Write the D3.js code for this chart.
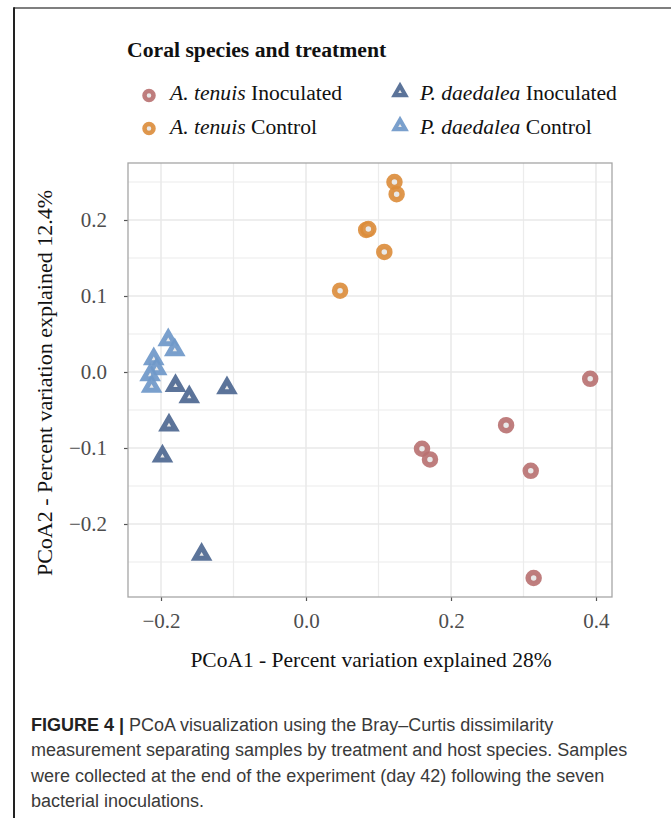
<!DOCTYPE html>
<html><head><meta charset="utf-8">
<script src="https://cdn.jsdelivr.net/npm/d3@7"></script>
<style>html,body{margin:0;padding:0;background:#fff;}svg{display:block;}</style>
</head><body>
<script>
// ---- data ----
const seriesNames = ["A. tenuis Inoculated", "A. tenuis Control", "P. daedalea Inoculated", "P. daedalea Control"];
const seriesSpecies = ["A. tenuis", "A. tenuis", "P. daedalea", "P. daedalea"];
const seriesTreatment = ["Inoculated", "Control", "Inoculated", "Control"];
const seriesShape = ["circle", "circle", "triangle", "triangle"];
const seriesColor = ["#b87070", "#db8c3a", "#4e6891", "#6f98c9"];

const atInocX = [0.392, 0.276, 0.160, 0.171, 0.310, 0.314];
const atInocY = [-0.009, -0.070, -0.101, -0.115, -0.130, -0.271];
const atCtrlX = [0.122, 0.125, 0.083, 0.086, 0.108, 0.047];
const atCtrlY = [0.250, 0.234, 0.187, 0.188, 0.158, 0.107];
const pdInocX = [-0.180, -0.161, -0.109, -0.189, -0.198, -0.144];
const pdInocY = [-0.018, -0.033, -0.021, -0.070, -0.111, -0.240];
const pdCtrlX = [-0.190, -0.181, -0.210, -0.206, -0.215, -0.213];
const pdCtrlY = [0.042, 0.029, 0.017, 0.004, -0.004, -0.019];

const xMajor = [-0.2, 0.0, 0.2, 0.4];
const xMinor = [-0.1, 0.1, 0.3];
const yMajor = [-0.2, -0.1, 0.0, 0.1, 0.2];
const yMinor = [-0.25, -0.15, -0.05, 0.05, 0.15, 0.25];

const legendTitle = "Coral species and treatment";
const xTitle = "PCoA1 - Percent variation explained 28%";
const yTitle = "PCoA2 - Percent variation explained 12.4%";
const captionBold = "FIGURE 4 |";
const captionLines = [
  " PCoA visualization using the Bray\u2013Curtis dissimilarity",
  "measurement separating samples by treatment and host species. Samples",
  "were collected at the end of the experiment (day 42) following the seven",
  "bacterial inoculations."
];

const seriesX = [atInocX, atCtrlX, pdInocX, pdCtrlX];
const seriesY = [atInocY, atCtrlY, pdInocY, pdCtrlY];

// ---- layout ----
const W = 671, H = 818;
const P = {left: 128, right: 612, top: 163, bottom: 597};
const serif = "'Liberation Serif','Times New Roman',serif";
const sans = "'Liberation Sans',Arial,Helvetica,sans-serif";

const svg = d3.select("body").append("svg").attr("width", W).attr("height", H);

// frame
svg.append("line").attr("x1", 14).attr("x2", W).attr("y1", 8).attr("y2", 8)
  .attr("stroke", "#555").attr("stroke-width", 1.5);
svg.append("line").attr("x1", 14).attr("x2", 14).attr("y1", 7.25).attr("y2", H)
  .attr("stroke", "#222").attr("stroke-width", 2);

const x = d3.scaleLinear().domain([-0.24552, 0.42207]).range([P.left, P.right]);
const y = d3.scaleLinear().domain([0.275, -0.29605]).range([P.top, P.bottom]);

// grid
const grid = svg.append("g");
grid.selectAll(".gxm").data(xMinor).join("line")
  .attr("x1", d => x(d)).attr("x2", d => x(d)).attr("y1", P.top).attr("y2", P.bottom)
  .attr("stroke", "#ececec").attr("stroke-width", 1.2);
grid.selectAll(".gym").data(yMinor).join("line")
  .attr("y1", d => y(d)).attr("y2", d => y(d)).attr("x1", P.left).attr("x2", P.right)
  .attr("stroke", "#ececec").attr("stroke-width", 1.2);
grid.selectAll(".gxM").data(xMajor).join("line")
  .attr("x1", d => x(d)).attr("x2", d => x(d)).attr("y1", P.top).attr("y2", P.bottom)
  .attr("stroke", "#e8e8e8").attr("stroke-width", 1.5);
grid.selectAll(".gyM").data(yMajor).join("line")
  .attr("y1", d => y(d)).attr("y2", d => y(d)).attr("x1", P.left).attr("x2", P.right)
  .attr("stroke", "#e8e8e8").attr("stroke-width", 1.5);

// axes
const fmt = d => d3.format(".1f")(d).replace("-", "\u2212");
const xAxis = svg.append("g").attr("transform", `translate(0,${P.bottom})`)
  .call(d3.axisBottom(x).tickValues(xMajor).tickFormat(fmt).tickSize(4).tickPadding(12));
const yAxis = svg.append("g").attr("transform", `translate(${P.left},0)`)
  .call(d3.axisLeft(y).tickValues(yMajor).tickFormat(fmt).tickSize(4).tickPadding(17));
[xAxis, yAxis].forEach(a => {
  a.select(".domain").remove();
  a.selectAll(".tick line").attr("stroke", "#555").attr("stroke-width", 1.2);
  a.selectAll(".tick text").attr("fill", "#4d4d4d").style("font-family", serif).style("font-size", "21px");
});

// panel border
svg.append("rect").attr("x", P.left).attr("y", P.top)
  .attr("width", P.right - P.left).attr("height", P.bottom - P.top)
  .attr("fill", "none").attr("stroke", "#a6a6a6").attr("stroke-width", 1.3);

// markers
function drawMarker(g, shape, color, k) {
  if (shape === "circle") {
    g.append("circle").attr("r", 5.5 * k).attr("fill", "#e9e9e9")
      .attr("stroke", color).attr("stroke-width", 5.5 * k).attr("stroke-opacity", 0.9);
  } else {
    const S = 13 * k, TH = S * Math.sqrt(3) / 2;
    g.append("path").attr("d", `M0,${-2 * TH / 3}L${S / 2},${TH / 3}L${-S / 2},${TH / 3}Z`)
      .attr("fill", "#e9e9e9")
      .attr("stroke", color).attr("stroke-width", 5 * k).attr("stroke-linejoin", "miter")
      .attr("stroke-opacity", 0.92);
  }
}
const pts = svg.append("g");
seriesNames.forEach((n, i) => {
  const data = seriesX[i].map((v, j) => [v, seriesY[i][j]]);
  pts.selectAll(null).data(data).join("g")
    .attr("transform", d => `translate(${x(d[0])},${y(d[1])})`)
    .each(function () { drawMarker(d3.select(this), seriesShape[i], seriesColor[i], 1); });
});

// axis titles
svg.append("text").attr("x", (P.left + P.right) / 2 + 1).attr("y", 667)
  .attr("text-anchor", "middle").style("font-family", serif).style("font-size", "21.5px")
  .attr("fill", "#111").text(xTitle);
svg.append("text").attr("transform", `translate(52,${(P.top + P.bottom) / 2 + 3}) rotate(-90)`)
  .attr("text-anchor", "middle").style("font-family", serif).style("font-size", "22px")
  .attr("fill", "#111").text(yTitle);

// legend
svg.append("text").attr("x", 127).attr("y", 57).style("font-family", serif)
  .style("font-size", "21.7px").style("font-weight", "bold").attr("fill", "#111").text(legendTitle);
const legPos = [[149, 95.5, 170, 100], [149, 128.5, 170, 134], [400, 92, 420, 100], [400, 126, 420, 134]];
seriesNames.forEach((n, i) => {
  const [mx, my, tx, ty] = legPos[i];
  const g = svg.append("g").attr("transform", `translate(${mx},${my})`);
  drawMarker(g, seriesShape[i], seriesColor[i], 0.82);
  const t = svg.append("text").attr("x", tx).attr("y", ty).style("font-family", serif)
    .style("font-size", "21.6px").attr("fill", "#111");
  t.append("tspan").style("font-style", "italic").text(seriesSpecies[i]);
  t.append("tspan").text(" " + seriesTreatment[i]);
});

// caption
const cap = svg.append("g").style("font-family", sans).style("font-size", "18px").attr("fill", "#3a3a3a");
captionLines.forEach((line, i) => {
  const t = cap.append("text").attr("x", 31).attr("y", 731 + i * 25.4);
  if (i === 0) t.append("tspan").style("font-weight", "bold").attr("fill", "#222").text(captionBold);
  t.append("tspan").text(line);
});
</script>
</body></html>
